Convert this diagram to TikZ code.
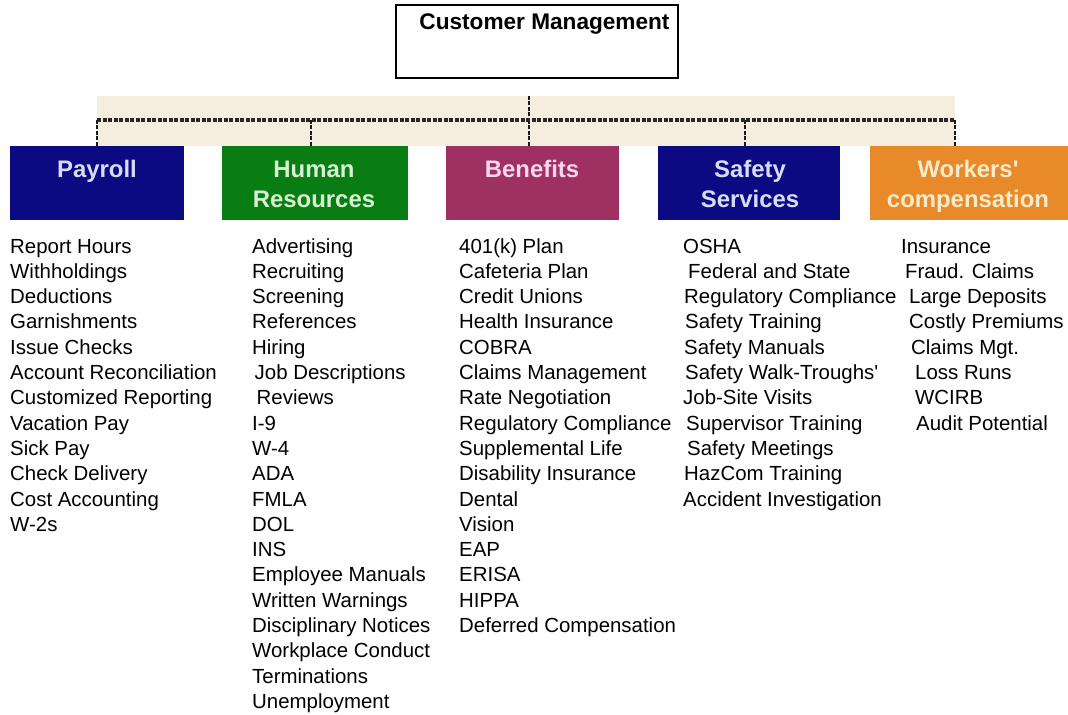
\documentclass[tikz,border=0pt]{standalone}
\usepackage{fontspec}
\setmainfont{Liberation Sans}[Ligatures=TeXOff]
\definecolor{cnavy}{RGB}{12,10,130}
\definecolor{cgreen}{RGB}{8,125,20}
\definecolor{cmaroon}{RGB}{158,48,98}
\definecolor{corange}{RGB}{232,138,42}
\definecolor{cband}{RGB}{245,238,222}
\definecolor{tnavy}{RGB}{215,220,250}
\definecolor{tgreen}{RGB}{215,240,210}
\definecolor{tmaroon}{RGB}{250,215,240}
\definecolor{torange}{RGB}{250,235,200}
\begin{document}
\begin{tikzpicture}[x=1bp,y=-1bp,
  item/.style={anchor=base west, inner sep=0pt, font=\fontsize{20.5}{25}\selectfont},
  hdr/.style={minimum height=74bp, inner sep=0pt, outer sep=0pt},
  htxt/.style={anchor=base, inner sep=0pt, font=\bfseries\fontsize{24}{30}\selectfont},
  bus/.style={dash pattern=on 4bp off 1.5bp, line width=2.2bp, draw=black!90},
  busmain/.style={dash pattern=on 4bp off 1.5bp, line width=3.2bp, draw=black!85}]
\useasboundingbox (0,0) rectangle (1068,715);
\fill[white] (0,0) rectangle (1068,715);
% top box
\node[draw=black, line width=2bp, minimum width=282bp, minimum height=73bp, inner sep=0pt] (cm) at (537,41.5) {};
\node[anchor=base, inner sep=0pt, font=\bfseries\fontsize{22.7}{26}\selectfont] (cmt) at (544.5,30) {Customer Management};
% band
\fill[cband] (97,96) rectangle (955,146);
% headers
\node[hdr, fill=cnavy, minimum width=174bp] (pay) at (97,183) {};
\node[hdr, fill=cgreen, minimum width=186bp] (hr) at (315,183) {};
\node[hdr, fill=cmaroon, minimum width=173bp] (ben) at (532.5,183) {};
\node[hdr, fill=cnavy, minimum width=182bp] (saf) at (749,183) {};
\node[hdr, fill=corange, minimum width=198bp] (wc) at (969,183) {};
\node[htxt, text=tnavy] (payt) at (97,177.5) {Payroll};
\node[htxt, text=tgreen] (hrt) at (314,177.5) {\begin{tabular}[t]{@{}c@{}}Human\\Resources\end{tabular}};
\node[htxt, text=tmaroon] (bent) at (532,177.5) {Benefits};
\node[htxt, text=tnavy] (saft) at (750,177.5) {\begin{tabular}[t]{@{}c@{}}Safety\\Services\end{tabular}};
\node[htxt, text=torange] (wct) at (968,177.5) {\begin{tabular}[t]{@{}c@{}}Workers'\\compensation\end{tabular}};
% connectors
\coordinate (hub) at (529,96);
\coordinate (b1) at (97,120);
\coordinate (b2) at (311,120);
\coordinate (b3) at (529,120);
\coordinate (b4) at (745,120);
\coordinate (b5) at (955,120);
\draw[bus] (hub) -- (b3);
\draw[bus] (b1) -- (b1 |- pay.north);
\draw[bus] (b2) -- (b2 |- hr.north);
\draw[bus] (b3) -- (b3 |- ben.north);
\draw[bus] (b4) -- (b4 |- saf.north);
\draw[bus] (b5) -- (b5 |- wc.north);
\draw[busmain] (b1) -- (b5);
% lists
\foreach \dx/\t [count=\i] in {0/Report Hours, 0/Withholdings, 0/Deductions, 0/Garnishments, 0/Issue Checks, 0/Account Reconciliation, 0/Customized Reporting, 0/Vacation Pay, 0/Sick Pay, 0/Check Delivery, 0/Cost Accounting, 0/W-2s}
  \node[item] (p\i) at (10+\dx, 253+25.3*\i-25.3) {\t};
\foreach \dx/\t [count=\i] in {0/Advertising, 0/Recruiting, 0/Screening, 0/References, 0/Hiring, 2.5/Job Descriptions, 4.5/Reviews, 0/I-9, 0/W-4, 0/ADA, 0/FMLA, 0/DOL, 0/INS, 0/Employee Manuals, 0/Written Warnings, 0/Disciplinary Notices, 0/Workplace Conduct, 0/Terminations, 0/Unemployment}
  \node[item] (h\i) at (252+\dx, 253+25.3*\i-25.3) {\t};
\foreach \dx/\t [count=\i] in {0/{401(k) Plan}, 0/Cafeteria Plan, 0/Credit Unions, 0/Health Insurance, 0/COBRA, 0/Claims Management, 0/Rate Negotiation, 0/Regulatory Compliance, 0/Supplemental Life, 0/Disability Insurance, 0/Dental, 0/Vision, 0/EAP, 0/ERISA, 0/HIPPA, 0/Deferred Compensation}
  \node[item] (bn\i) at (459+\dx, 253+25.3*\i-25.3) {\t};
\foreach \dx/\t [count=\i] in {0/OSHA, 5/Federal and State, 1/Regulatory Compliance, 2/Safety Training, 1/Safety Manuals, 2/Safety Walk-Troughs', 0/Job-Site Visits, 3/Supervisor Training, 4/Safety Meetings, 1/HazCom Training, 0/Accident Investigation}
  \node[item] (s\i) at (683+\dx, 253+25.3*\i-25.3) {\t};
\foreach \dx/\t [count=\i] in {0/Insurance, 4/Fraud. Claims, 8/Large Deposits, 8/Costly Premiums, 10/Claims Mgt., 14/Loss Runs, 14/WCIRB, 15/Audit Potential}
  \node[item] (w\i) at (901+\dx, 253+25.3*\i-25.3) {\t};
\end{tikzpicture}
\end{document}
